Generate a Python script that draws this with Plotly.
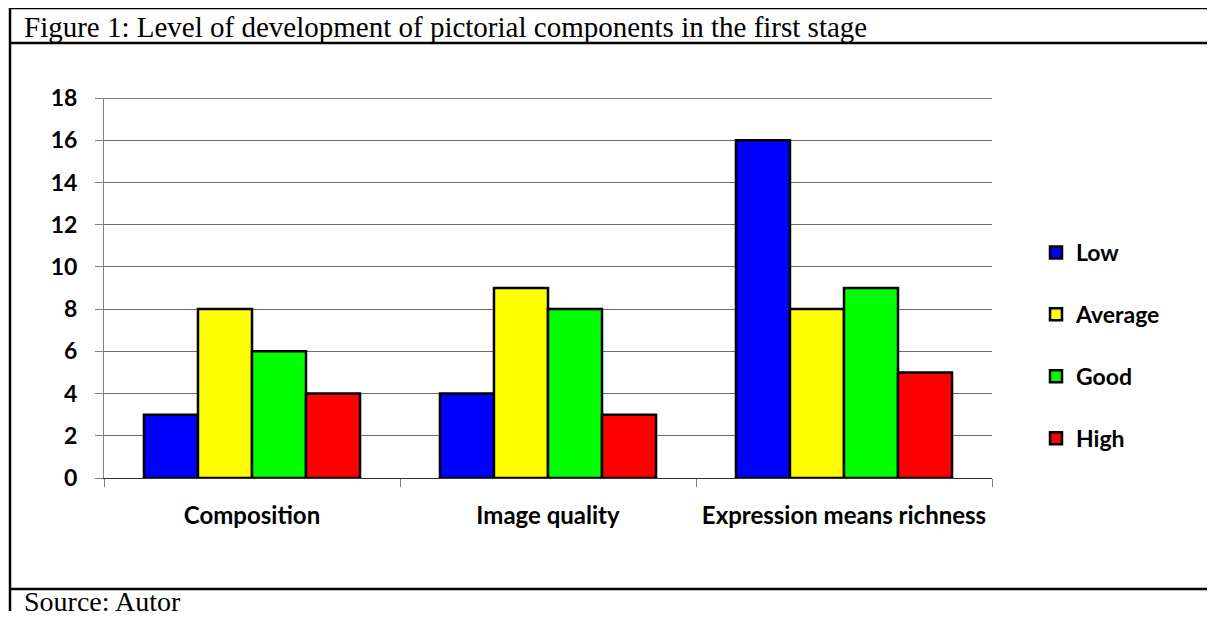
import plotly.graph_objects as go

categories = ["Composition", "Image quality", "Expression means richness"]
series_names = ["Low", "Average", "Good", "High"]
low = [3, 4, 16]
average = [8, 9, 8]
good = [6, 8, 9]
high = [4, 3, 5]
colors = ["#0000FF", "#FFFF00", "#00FF00", "#FF0000"]
y_ticks = [0, 2, 4, 6, 8, 10, 12, 14, 16, 18]

OFF = 8  # page body margin in the browser
W, H = 1215 - 2 * OFF, 619 - 2 * OFF
L, R, T, B = 104, 992, 98, 478  # plot area in reference px

def px_x(px):
    return (px - L) / (R - L)

def px_y(py):
    return (B - py) / (B - T)

fig = go.Figure()
for name, vals, col in zip(series_names, [low, average, good, high], colors):
    fig.add_trace(go.Bar(
        x=categories, y=vals, name=name, legendgroup=name,
        marker=dict(color=col, line=dict(color="#000000", width=2.5)),
    ))

sans = "Lato"
fig.update_layout(
    width=W, height=H,
    margin=dict(l=L - OFF, r=W - (R - OFF), t=T - OFF, b=H - (B - OFF)),
    paper_bgcolor="white", plot_bgcolor="white",
    barmode="group", bargap=0.27, bargroupgap=0,
    font=dict(family=sans, size=18, color="black"),
    showlegend=True,
    legend=dict(
        x=px_x(1036), y=px_y(231), xanchor="left", yanchor="top",
        font=dict(family=sans, size=23, color="black", weight="bold"),
        tracegroupgap=29, itemwidth=30,
        bgcolor="rgba(0,0,0,0)",
    ),
    xaxis=dict(
        type="category", showline=True, linecolor="#333333", linewidth=1,
        ticks="outside", ticklen=8, tickcolor="#808080", tickson="boundaries",
        tickfont=dict(family=sans, size=24, color="black", weight="bold"),
        ticklabelstandoff=16,
        showgrid=False,
    ),
    yaxis=dict(
        range=[0, 18], tickvals=y_ticks, showline=True, linecolor="#808080",
        linewidth=1, ticks="outside", ticklen=8, tickcolor="#808080",
        tickfont=dict(family=sans, size=23, color="black", weight="bold"),
        showgrid=True, gridcolor="#6e6e6e", gridwidth=1, zeroline=False,
        ticklabelstandoff=13,
    ),
    shapes=[
        # top gridline (value 18)
        dict(type="line", xref="paper", yref="y", x0=0, x1=1, y0=18, y1=18, line=dict(color="black", width=1.2)),
        # outer frame top
        dict(type="line", xref="paper", yref="paper", x0=px_x(9), x1=px_x(1230), y0=px_y(8), y1=px_y(8), line=dict(color="black", width=2.5)),
        # left frame
        dict(type="line", xref="paper", yref="paper", x0=px_x(10), x1=px_x(10), y0=px_y(7), y1=px_y(640), line=dict(color="black", width=2.5)),
        # below title
        dict(type="line", xref="paper", yref="paper", x0=px_x(9), x1=px_x(1230), y0=px_y(43), y1=px_y(43), line=dict(color="black", width=2.5)),
        # above source
        dict(type="line", xref="paper", yref="paper", x0=px_x(9), x1=px_x(1230), y0=px_y(589), y1=px_y(589), line=dict(color="black", width=2.5)),
    ],
    annotations=[
        dict(text="Figure 1: Level of development of pictorial components in the first stage",
             xref="paper", yref="paper", x=px_x(22), y=px_y(27), xanchor="left", yanchor="middle",
             showarrow=False, font=dict(family="Liberation Serif", size=29, color="black")),
        dict(text="Source: Autor",
             xref="paper", yref="paper", x=px_x(22), y=px_y(601), xanchor="left", yanchor="middle",
             showarrow=False, font=dict(family="Liberation Serif", size=28, color="black")),
    ],
)

fig.write_html("out.html")
